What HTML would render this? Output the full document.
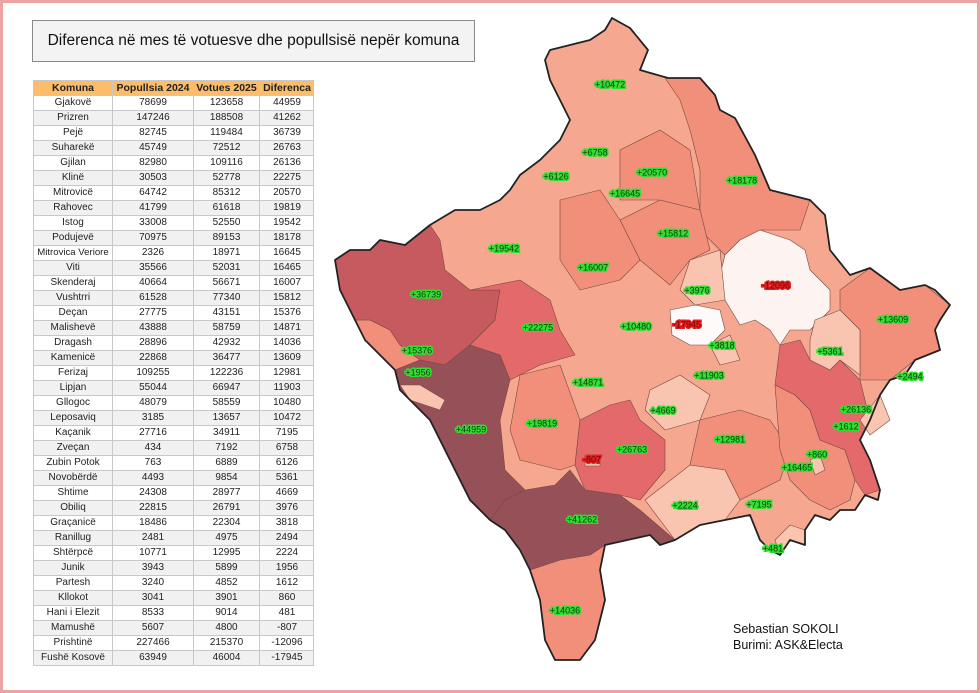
<!DOCTYPE html><html><head><meta charset="utf-8"><style>
html,body{margin:0;width:980px;height:693px;overflow:hidden}
body{background:#fff;position:relative;font-family:"Liberation Sans",sans-serif}
.frame{position:absolute;left:0;top:0;width:974px;height:687px;border:3px solid #eba3a3}
.title{position:absolute;left:32px;top:20px;width:441px;height:40px;border:1px solid #888;background:#f3f3f3;font-size:15.5px;line-height:40px;text-align:center;color:#111}
.tb{position:absolute;left:33px;top:80px;width:281px;height:586px;box-sizing:border-box;overflow:hidden;display:grid;grid-template-columns:78px 80px 65px 54px;grid-template-rows:repeat(39,14px);gap:1px;background:#c8c8c8;border:1px solid #c8c8c8;font-size:10px;color:#222}
.tb div{background:#fff;text-align:center;line-height:14px;height:14px;min-height:0;white-space:nowrap;overflow:hidden}
.tb .h{background:#fbbd6b;font-weight:bold;font-size:10.5px}
.tb .g{background:#f1f1f1}
.cr{position:absolute;left:733px;top:621px;font-size:12.5px;line-height:16px;color:#111}
</style></head><body>
<div class="frame"></div>
<div class="title">Diferenca në mes të votuesve dhe popullsisë nepër komuna</div>
<div class="tb" id="tb"><div class="h">Komuna</div><div class="h">Popullsia 2024</div><div class="h">Votues 2025</div><div class="h">Diferenca</div>
<div>Gjakovë</div><div>78699</div><div>123658</div><div>44959</div>
<div class="g">Prizren</div><div class="g">147246</div><div class="g">188508</div><div class="g">41262</div>
<div>Pejë</div><div>82745</div><div>119484</div><div>36739</div>
<div class="g">Suharekë</div><div class="g">45749</div><div class="g">72512</div><div class="g">26763</div>
<div>Gjilan</div><div>82980</div><div>109116</div><div>26136</div>
<div class="g">Klinë</div><div class="g">30503</div><div class="g">52778</div><div class="g">22275</div>
<div>Mitrovicë</div><div>64742</div><div>85312</div><div>20570</div>
<div class="g">Rahovec</div><div class="g">41799</div><div class="g">61618</div><div class="g">19819</div>
<div>Istog</div><div>33008</div><div>52550</div><div>19542</div>
<div class="g">Podujevë</div><div class="g">70975</div><div class="g">89153</div><div class="g">18178</div>
<div style="font-size:9.6px">Mitrovica Veriore</div><div>2326</div><div>18971</div><div>16645</div>
<div class="g">Viti</div><div class="g">35566</div><div class="g">52031</div><div class="g">16465</div>
<div>Skenderaj</div><div>40664</div><div>56671</div><div>16007</div>
<div class="g">Vushtrri</div><div class="g">61528</div><div class="g">77340</div><div class="g">15812</div>
<div>Deçan</div><div>27775</div><div>43151</div><div>15376</div>
<div class="g">Malishevë</div><div class="g">43888</div><div class="g">58759</div><div class="g">14871</div>
<div>Dragash</div><div>28896</div><div>42932</div><div>14036</div>
<div class="g">Kamenicë</div><div class="g">22868</div><div class="g">36477</div><div class="g">13609</div>
<div>Ferizaj</div><div>109255</div><div>122236</div><div>12981</div>
<div class="g">Lipjan</div><div class="g">55044</div><div class="g">66947</div><div class="g">11903</div>
<div>Gllogoc</div><div>48079</div><div>58559</div><div>10480</div>
<div class="g">Leposaviq</div><div class="g">3185</div><div class="g">13657</div><div class="g">10472</div>
<div>Kaçanik</div><div>27716</div><div>34911</div><div>7195</div>
<div class="g">Zveçan</div><div class="g">434</div><div class="g">7192</div><div class="g">6758</div>
<div>Zubin Potok</div><div>763</div><div>6889</div><div>6126</div>
<div class="g">Novobërdë</div><div class="g">4493</div><div class="g">9854</div><div class="g">5361</div>
<div>Shtime</div><div>24308</div><div>28977</div><div>4669</div>
<div class="g">Obiliq</div><div class="g">22815</div><div class="g">26791</div><div class="g">3976</div>
<div>Graçanicë</div><div>18486</div><div>22304</div><div>3818</div>
<div class="g">Ranillug</div><div class="g">2481</div><div class="g">4975</div><div class="g">2494</div>
<div>Shtërpcë</div><div>10771</div><div>12995</div><div>2224</div>
<div class="g">Junik</div><div class="g">3943</div><div class="g">5899</div><div class="g">1956</div>
<div>Partesh</div><div>3240</div><div>4852</div><div>1612</div>
<div class="g">Kllokot</div><div class="g">3041</div><div class="g">3901</div><div class="g">860</div>
<div>Hani i Elezit</div><div>8533</div><div>9014</div><div>481</div>
<div class="g">Mamushë</div><div class="g">5607</div><div class="g">4800</div><div class="g">-807</div>
<div>Prishtinë</div><div>227466</div><div>215370</div><div>-12096</div>
<div class="g">Fushë Kosovë</div><div class="g">63949</div><div class="g">46004</div><div class="g">-17945</div>
</div>
<svg width="980" height="693" style="position:absolute;left:0;top:0">
<g stroke="#7a4a40" stroke-width="0.6" stroke-linejoin="round">
<polygon fill="#f6a790" points="612,18 630,28 648,50 640,70 668,78 700,78 715,95 720,110 735,118 755,155 770,190 810,200 825,215 830,250 850,275 870,268 900,290 925,285 935,290 950,305 940,320 935,330 940,350 915,360 905,375 890,380 880,395 870,420 860,440 870,460 880,490 878,500 865,495 855,510 840,510 830,520 815,515 805,530 805,545 790,540 780,555 770,550 760,540 750,515 725,520 700,525 675,540 660,545 650,535 605,545 600,570 605,600 595,640 580,660 555,660 545,640 540,600 530,570 520,550 505,530 490,520 470,500 455,470 430,420 400,390 395,370 380,355 365,340 355,320 340,290 335,260 350,250 370,250 380,240 405,245 430,225 455,210 480,210 500,200 510,190 520,175 540,160 560,140 570,120 560,100 550,80 545,60 550,50 570,45 590,40 605,30"/>
<polygon fill="#f28f7a" points="665,78 700,78 715,95 720,110 735,118 755,155 770,190 810,200 800,230 760,230 740,240 725,255 700,230 700,170 690,130 680,100"/>
<polygon fill="#f28f7a" points="620,220 660,200 700,210 710,250 690,260 670,285 640,260"/>
<polygon fill="#f28f7a" points="560,200 600,190 620,220 640,260 620,280 580,290 560,260"/>
<polygon fill="#f28f7a" points="620,150 660,130 690,150 700,210 660,200 620,200"/>
<polygon fill="#f28f7a" points="840,290 870,268 900,290 925,285 950,305 935,330 940,350 915,360 890,380 860,380 860,330 840,310"/>
<polygon fill="#f28f7a" points="700,420 740,410 770,420 790,450 780,480 740,500 725,470 690,465"/>
<polygon fill="#f28f7a" points="775,385 795,395 810,410 820,440 845,450 855,480 850,500 830,510 810,500 790,480 780,450"/>
<polygon fill="#f28f7a" points="520,375 560,365 580,420 575,465 560,470 520,460 510,430"/>
<polygon fill="#f28f7a" points="355,320 370,320 390,330 400,345 420,360 395,370 380,355 365,340"/>
<polygon fill="#f28f7a" points="530,570 560,560 590,555 605,545 600,570 605,600 595,640 580,660 555,660 545,640 540,600"/>
<polygon fill="#c75a5f" points="335,260 350,250 370,250 380,240 405,245 430,225 440,240 445,270 470,290 500,290 495,320 470,345 445,365 420,360 400,345 390,330 370,320 355,320 340,290"/>
<polygon fill="#e4696a" points="470,290 520,280 550,300 560,330 575,355 540,365 510,380 500,355 470,345 495,320 500,290"/>
<polygon fill="#e4696a" points="580,420 610,405 630,400 640,420 665,440 665,470 640,500 620,495 585,490 575,465"/>
<polygon fill="#e4696a" points="780,345 800,340 810,360 830,370 840,360 860,380 870,420 860,440 870,460 880,490 865,495 855,480 845,450 820,440 810,410 795,395 775,385"/>
<polygon fill="#955058" points="395,370 420,360 445,365 470,345 500,355 510,380 500,420 505,470 525,490 505,500 490,520 470,500 455,470 430,420 400,390"/>
<polygon fill="#955058" points="505,500 525,490 555,485 570,470 585,490 620,495 640,510 675,540 660,545 650,535 605,545 590,555 560,560 530,570 520,550 505,530 490,520"/>
<polygon fill="#fdf3f1" points="725,255 740,240 760,230 790,240 805,250 810,270 830,290 830,310 810,330 790,330 780,345 770,330 755,320 740,325 725,300 720,275"/>
<polygon fill="#fffafa" points="670,310 695,305 720,310 725,330 710,345 690,345 672,335"/>
<g fill="#f9c4b0">
<polygon points="690,260 720,250 725,300 695,305 680,290"/>
<polygon points="710,345 730,335 740,360 720,365"/>
<polygon points="815,320 840,310 860,330 860,375 840,360 830,370 810,360 810,340"/>
<polygon points="650,390 680,375 710,395 700,420 665,430 645,410"/>
<polygon points="645,500 690,465 725,470 740,500 725,520 700,525 675,540"/>
<polygon points="775,540 790,525 805,530 805,545 790,540 780,555"/>
<polygon points="400,385 420,385 445,400 440,410 410,400"/>
<polygon points="585,455 600,455 600,466 585,466"/>
<polygon points="860,420 880,395 890,420 870,435"/>
<polygon points="810,460 820,455 825,470 815,475"/>
</g>
</g>
<polygon fill="none" stroke="#222" stroke-width="1.8" stroke-linejoin="round" points="612,18 630,28 648,50 640,70 668,78 700,78 715,95 720,110 735,118 755,155 770,190 810,200 825,215 830,250 850,275 870,268 900,290 925,285 935,290 950,305 940,320 935,330 940,350 915,360 905,375 890,380 880,395 870,420 860,440 870,460 880,490 878,500 865,495 855,510 840,510 830,520 815,515 805,530 805,545 790,540 780,555 770,550 760,540 750,515 725,520 700,525 675,540 660,545 650,535 605,545 600,570 605,600 595,640 580,660 555,660 545,640 540,600 530,570 520,550 505,530 490,520 470,500 455,470 430,420 400,390 395,370 380,355 365,340 355,320 340,290 335,260 350,250 370,250 380,240 405,245 430,225 455,210 480,210 500,200 510,190 520,175 540,160 560,140 570,120 560,100 550,80 545,60 550,50 570,45 590,40 605,30"/>
<g font-family="Liberation Sans,sans-serif" font-size="9" text-anchor="middle" dominant-baseline="middle">
<g fill="#0a3a0a" style="paint-order:stroke" stroke="#33dd33" stroke-width="3">
<text x="610" y="85">+10472</text><text x="595" y="153">+6758</text><text x="556" y="177">+6126</text><text x="652" y="173">+20570</text><text x="625" y="194">+16645</text><text x="742" y="181">+18178</text><text x="673" y="234">+15812</text><text x="504" y="249">+19542</text><text x="593" y="268">+16007</text><text x="426" y="295">+36739</text><text x="697" y="291">+3976</text><text x="538" y="328">+22275</text><text x="636" y="327">+10480</text><text x="722" y="346">+3818</text><text x="893" y="320">+13609</text><text x="830" y="352">+5361</text><text x="417" y="351">+15376</text><text x="418" y="373">+1956</text><text x="709" y="376">+11903</text><text x="588" y="383">+14871</text><text x="910" y="377">+2494</text><text x="663" y="411">+4669</text><text x="856" y="410">+26136</text><text x="846" y="427">+1612</text><text x="471" y="430">+44959</text><text x="542" y="424">+19819</text><text x="730" y="440">+12981</text><text x="817" y="455">+860</text><text x="632" y="450">+26763</text><text x="797" y="468">+16465</text><text x="685" y="506">+2224</text><text x="759" y="505">+7195</text><text x="582" y="520">+41262</text><text x="773" y="549">+481</text><text x="565" y="611">+14036</text>
</g>
<g fill="#7a0000" style="paint-order:stroke" stroke="#e02020" stroke-width="3">
<text x="776" y="286">-12096</text><text x="687" y="325">-17945</text><text x="592" y="460">-807</text>
</g></g>
</svg>
<div class="cr">Sebastian SOKOLI<br>Burimi: ASK&amp;Electa</div>
</body></html>
